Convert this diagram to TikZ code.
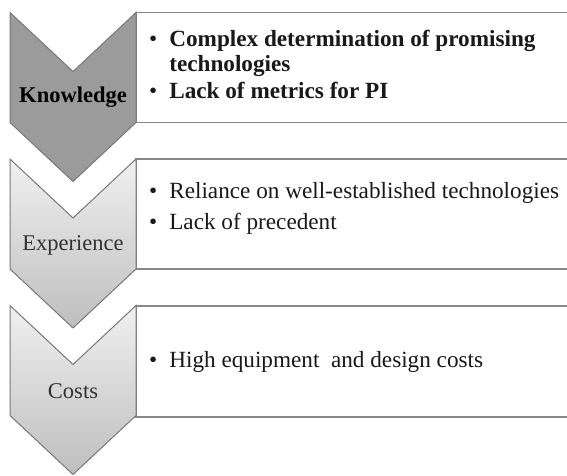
\documentclass[tikz,border=0pt]{standalone}
\usepackage{fontspec}
\setmainfont{Liberation Serif}
\usetikzlibrary{shadings}
\definecolor{edgegray}{RGB}{120,120,120}
\definecolor{boxedge}{RGB}{135,135,135}
\definecolor{darkfill}{RGB}{155,155,155}
\definecolor{lighttop}{RGB}{240,240,240}
\definecolor{lightbot}{RGB}{190,190,190}
\definecolor{inktext}{RGB}{25,25,25}
\definecolor{softtext}{RGB}{50,50,50}
\newcommand{\chevronpath}[1]{%
  (10,#1) -- (73,#1+59) -- (136,#1) -- (136,#1+110) -- (73,#1+169) -- (10,#1+110) -- cycle}
\tikzset{
  panel/.style={draw=boxedge, line width=1.3pt, fill=white},
  darkchevron/.style={draw=edgegray, line width=1pt, fill=darkfill},
  lightchevron/.style={draw=edgegray, line width=1pt, top color=lighttop, bottom color=lightbot},
  stagelabel/.style={inner sep=0pt, anchor=base, font=\fontsize{22.5}{25}\selectfont},
  itemtext/.style={inner sep=0pt, anchor=base west, text=inktext}
}
\newcommand{\itemlist}[2]{\fontsize{23.2}{#1}\selectfont\begin{tabular}[t]{@{}l@{\hspace{12pt}}l@{}}#2\end{tabular}}
\begin{document}
\begin{tikzpicture}[x=1pt,y=-1pt]
  \useasboundingbox (0,0) rectangle (567,475);
  \clip (0,0) rectangle (567,475);

  % text panels, running off the right edge
  \draw[panel] (136,12.5) rectangle (580,122.5);
  \draw[panel] (136,159) rectangle (580,269);
  \draw[panel] (136,306) rectangle (580,417);

  % stage chevrons
  \draw[darkchevron] \chevronpath{12.5};
  \draw[lightchevron] \chevronpath{159};
  \draw[lightchevron] \chevronpath{305.5};

  % stage names
  \node[stagelabel, text=black] (knowledge) at (73,102) {\bfseries Knowledge};
  \node[stagelabel, text=softtext] (experience) at (73,250) {Experience};
  \node[stagelabel, text=softtext] (costs) at (73,398) {Costs};

  % barriers per stage
  \node[itemtext] (knowitems) at (149,46) {\itemlist{25.5}{%
    \textbullet & \bfseries Complex determination of promising\\
                & \bfseries technologies\\[1.5pt]
    \textbullet & \bfseries Lack of metrics for PI}};
  \node[itemtext] (expitems) at (149,198) {\itemlist{31}{%
    \textbullet & Reliance on well-established technologies\\
    \textbullet & Lack of precedent}};
  \node[itemtext] (costitems) at (149,367) {\itemlist{25}{%
    \textbullet & High equipment\ \ and design costs}};
\end{tikzpicture}
\end{document}
